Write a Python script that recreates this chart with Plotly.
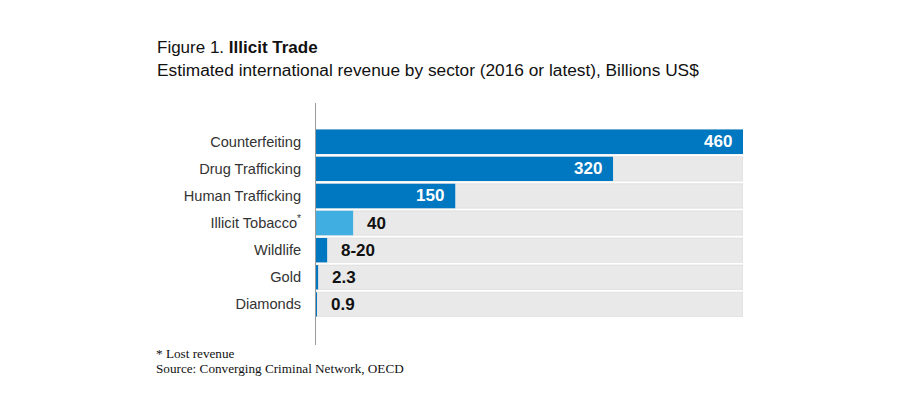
import plotly.graph_objects as go

categories = ["Counterfeiting", "Drug Trafficking", "Human Trafficking",
              "Illicit Tobacco*", "Wildlife", "Gold", "Diamonds"]
values = [460, 320, 150, 40, 12, 2.3, 0.9]
value_labels = ["460", "320", "150", "40", "8-20", "2.3", "0.9"]
bar_colors = ["#0078c1", "#0078c1", "#0078c1", "#41aee1", "#0078c1", "#0078c1", "#0078c1"]

tick_text = [c.replace("*", "<sup>*</sup>") for c in categories]
ypos = list(range(len(categories)))
track = [max(values)] * len(categories)

OFF = 8  # page body margin
L, R, T, B = 316 - OFF, 157 + OFF, 103 - OFF, 71 + OFF
W, H = 900, 416
pw, ph = W - L - R, H - T - B

fig = go.Figure()
fig.add_trace(go.Bar(
    y=ypos, x=track, orientation="h",
    marker=dict(color="#e9e9e9", line=dict(color="#d6d6d6", width=0.6)),
    hoverinfo="skip", showlegend=False, width=0.9,
))
fig.add_trace(go.Bar(
    y=ypos, x=values, orientation="h",
    marker=dict(color=bar_colors, line=dict(width=0)),
    showlegend=False, width=0.9,
))

for yv, v, lab in zip(ypos, values, value_labels):
    inside = v > 100
    fig.add_annotation(
        x=v, y=yv, xref="x", yref="y", text=lab, showarrow=False,
        xanchor="right" if inside else "left",
        xshift=-9 if inside else 12,
        font=dict(family="Liberation Sans, Arial, sans-serif", size=17,
                  color="white" if inside else "#111111", weight="bold"),
    )

def py(p):
    return (H - B - (p - OFF)) / ph

def px(p):
    return (p - OFF - L) / pw

fig.add_annotation(xref="paper", yref="paper", x=px(155), y=py(48), xanchor="left", yanchor="middle",
                   text="Figure 1. <b>Illicit Trade</b>", showarrow=False,
                   font=dict(family="Liberation Sans, Arial, sans-serif", size=17, color="#111111"))
fig.add_annotation(xref="paper", yref="paper", x=px(155), y=py(70), xanchor="left", yanchor="middle",
                   text="Estimated international revenue by sector (2016 or latest), Billions US$",
                   showarrow=False,
                   font=dict(family="Liberation Sans, Arial, sans-serif", size=17.3, color="#111111"))
fig.add_annotation(xref="paper", yref="paper", x=px(154), y=py(353), xanchor="left", yanchor="middle",
                   text="* Lost revenue", showarrow=False,
                   font=dict(family="Liberation Serif, Times New Roman, serif", size=13.2, color="#111111"))
fig.add_annotation(xref="paper", yref="paper", x=px(154), y=py(368), xanchor="left", yanchor="middle",
                   text="Source: Converging Criminal Network, OECD", showarrow=False,
                   font=dict(family="Liberation Serif, Times New Roman, serif", size=13.2, color="#111111"))

fig.update_layout(
    width=W, height=H,
    margin=dict(l=L, r=R, t=T, b=B, pad=0),
    barmode="overlay",
    paper_bgcolor="white", plot_bgcolor="white",
    xaxis=dict(range=[0, max(values)], visible=False, fixedrange=True),
    yaxis=dict(
        tickmode="array", tickvals=ypos, ticktext=tick_text,
        range=[len(categories) + 0.5, -1.43],
        showline=True, linecolor="#9a9a9a", linewidth=1,
        showgrid=False, zeroline=False, ticks="",
        ticklabelstandoff=11,
        tickfont=dict(family="Liberation Sans, Arial, sans-serif", size=14.6, color="#333333"),
    ),
    font=dict(family="Liberation Sans, Arial, sans-serif"),
)

fig.write_html("out.html")
